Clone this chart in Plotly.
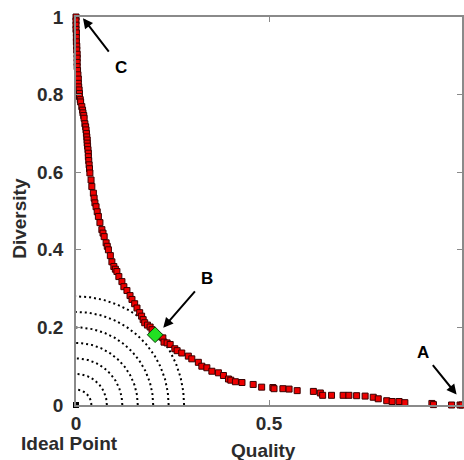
import numpy as np
import plotly.graph_objects as go

# Pareto front points (Quality, Diversity)
quality = [
    0.000, 0.000, 0.000, 0.000, 0.001, 0.001, 0.001, 0.002, 0.002, 0.003,
    0.003, 0.003, 0.003, 0.004, 0.005, 0.006, 0.006, 0.007, 0.008, 0.009,
    0.009, 0.011, 0.012, 0.015, 0.017, 0.018, 0.020, 0.021, 0.023, 0.025,
    0.026, 0.027, 0.028, 0.029, 0.029, 0.030, 0.031, 0.032, 0.032, 0.033,
    0.034, 0.035, 0.036, 0.039, 0.041, 0.045, 0.047, 0.049, 0.052, 0.055,
    0.058, 0.062, 0.067, 0.070, 0.073, 0.078, 0.081, 0.084, 0.089, 0.093,
    0.098, 0.102, 0.106, 0.111, 0.119, 0.124, 0.132, 0.140, 0.145, 0.152,
    0.158, 0.165, 0.170, 0.174, 0.178, 0.185, 0.192, 0.197, 0.215, 0.225,
    0.228, 0.236, 0.244, 0.256, 0.262, 0.274, 0.291, 0.300, 0.317, 0.326,
    0.339, 0.352, 0.369, 0.382, 0.395, 0.401, 0.413, 0.430, 0.459, 0.481,
    0.510, 0.513, 0.536, 0.552, 0.573, 0.615, 0.633, 0.639, 0.662, 0.692,
    0.707, 0.727, 0.749, 0.770, 0.783, 0.805, 0.819, 0.837, 0.852, 0.922,
    0.926, 0.973, 0.995, 1.000,
]
diversity = [
    1.000, 0.990, 0.979, 0.968, 0.959, 0.947, 0.936, 0.925, 0.915, 0.904,
    0.894, 0.883, 0.872, 0.862, 0.851, 0.840, 0.829, 0.820, 0.812, 0.803,
    0.795, 0.787, 0.781, 0.769, 0.760, 0.753, 0.746, 0.739, 0.725, 0.717,
    0.709, 0.700, 0.691, 0.683, 0.675, 0.667, 0.658, 0.649, 0.640, 0.630,
    0.619, 0.609, 0.598, 0.580, 0.563, 0.546, 0.533, 0.521, 0.511, 0.498,
    0.486, 0.470, 0.452, 0.443, 0.434, 0.418, 0.409, 0.400, 0.385, 0.369,
    0.357, 0.350, 0.344, 0.331, 0.318, 0.305, 0.295, 0.282, 0.272, 0.261,
    0.250, 0.238, 0.229, 0.220, 0.212, 0.206, 0.201, 0.194, 0.176, 0.173,
    0.162, 0.160, 0.156, 0.145, 0.140, 0.134, 0.126, 0.119, 0.110, 0.100,
    0.096, 0.087, 0.083, 0.076, 0.067, 0.064, 0.060, 0.058, 0.053, 0.046,
    0.045, 0.042, 0.042, 0.041, 0.037, 0.035, 0.031, 0.025, 0.025, 0.025,
    0.025, 0.024, 0.023, 0.020, 0.016, 0.011, 0.009, 0.009, 0.006, 0.004,
    0.001, 0.000, 0.000, 0.000,
]

# Selected solution B and ideal point
point_b = [0.205, 0.181]
ideal_point = [0.0, 0.0]

# Radii of the dotted iso-distance arcs around the ideal point
arc_radii = [0.04, 0.08, 0.12, 0.16, 0.20, 0.24, 0.28]

x_ticks = [0, 0.5, 1]
x_tick_labels = ["0", "0.5", "1"]
y_ticks = [0, 0.2, 0.4, 0.6, 0.8, 1]
y_tick_labels = ["0", "0.2", "0.4", "0.6", "0.8", "1"]

FONT = "Liberation Sans, Arial, Helvetica, sans-serif"
TXT = "#2b2b2b"
AX = "#8a8a8a"

fig = go.Figure()

theta = np.linspace(0, np.pi / 2, 120)
for r in arc_radii:
    fig.add_trace(go.Scatter(
        x=r * np.cos(theta), y=r * np.sin(theta), mode="lines",
        line=dict(color="black", width=2, dash="2px,3px"),
        hoverinfo="skip", showlegend=False, cliponaxis=False,
    ))

fig.add_trace(go.Scatter(
    x=quality, y=diversity, mode="markers",
    marker=dict(symbol="square", size=6, color="#ee0000",
                line=dict(color="#3a0000", width=1)),
    showlegend=False, cliponaxis=False,
))

fig.add_trace(go.Scatter(
    x=[point_b[0]], y=[point_b[1]], mode="markers",
    marker=dict(symbol="diamond", size=12, color="#22e022",
                line=dict(color="#0a3a0a", width=1)),
    showlegend=False, cliponaxis=False,
))

fig.add_trace(go.Scatter(
    x=[ideal_point[0]], y=[ideal_point[1]], mode="markers",
    marker=dict(symbol="square", size=6, color="black"),
    showlegend=False, cliponaxis=False,
))

# paper coords coincide with data coords (axis ranges are [0, 1])
arrow = dict(showarrow=True, text="", arrowhead=2, arrowsize=1,
             arrowwidth=2, arrowcolor="black", standoff=0,
             xref="paper", yref="paper")
fig.add_annotation(x=0.018, y=0.997, ax=27, ay=35, **arrow)
fig.add_annotation(x=0.226, y=0.199, ax=33, ay=-38, **arrow)
fig.add_annotation(x=0.986, y=0.027, ax=-25, ay=-31, **arrow)

lab = dict(showarrow=False, xref="paper", yref="paper",
           xanchor="center", yanchor="middle",
           font=dict(family=FONT, size=17, color="black", weight="bold"))
fig.add_annotation(x=0.117, y=0.871, text="C", **lab)
fig.add_annotation(x=0.340, y=0.327, text="B", **lab)
fig.add_annotation(x=0.900, y=0.136, text="A", **lab)

ttl = dict(showarrow=False, xref="paper", yref="paper",
           xanchor="center", yanchor="middle",
           font=dict(family=FONT, size=19, color=TXT, weight="bold"))
fig.add_annotation(x=-0.016, y=-0.099, text="Ideal Point", **ttl)
fig.add_annotation(x=0.485, y=-0.116, text="Quality", **ttl)
fig.add_annotation(x=-0.145, y=0.48, text="Diversity", textangle=-90, **ttl)

axis_common = dict(
    range=[0, 1], showgrid=False, zeroline=False,
    showline=True, linecolor=AX, linewidth=1.5, mirror="ticks",
    ticks="inside", ticklen=5, tickcolor=AX, tickwidth=1,
    tickfont=dict(family=FONT, size=19, color=TXT, weight="bold"),
    automargin=False,
)
fig.update_xaxes(tickvals=x_ticks, ticktext=x_tick_labels, **axis_common)
fig.update_yaxes(tickvals=y_ticks, ticktext=y_tick_labels,
                 ticklabelstandoff=7, **axis_common)

fig.update_layout(
    width=464, height=460,
    margin=dict(l=76, r=2, t=17, b=55),
    plot_bgcolor="white", paper_bgcolor="white",
    showlegend=False, hovermode=False,
)

fig.write_html("out.html", config={"displayModeBar": False},
               post_script="document.body.style.margin='0';")
